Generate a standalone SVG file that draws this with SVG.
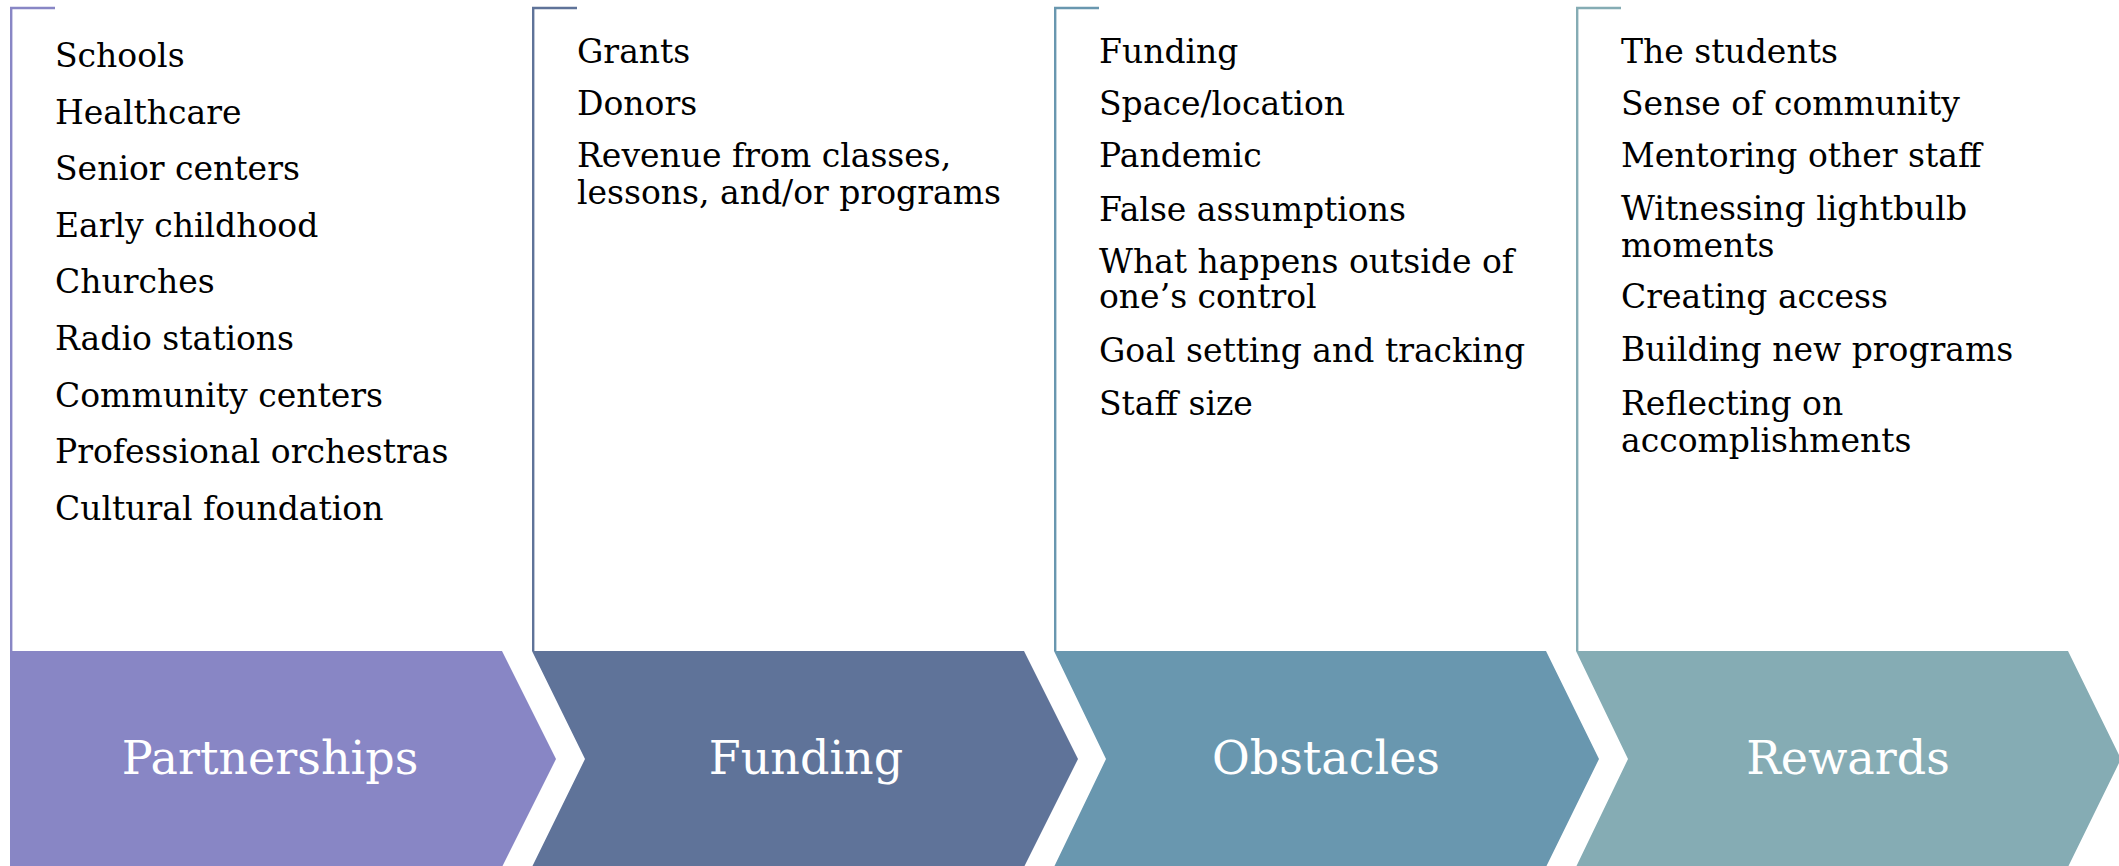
<svg xmlns="http://www.w3.org/2000/svg" width="2119" height="866" viewBox="0 0 2119 866">
<style>
.item{font-family:"DejaVu Serif","Liberation Serif",serif;font-size:33px;fill:#000}
.label{font-family:"DejaVu Serif","Liberation Serif",serif;font-size:46px;fill:#fff;text-anchor:middle}
.br{fill:none;stroke-width:2.4}
.c1{fill:#8886C5}.c2{fill:#5F7399}.c3{fill:#6997AF}.c4{fill:#85ACB4}
.s1{stroke:#8886C5}.s2{stroke:#5F7399}.s3{stroke:#6997AF}.s4{stroke:#85ACB4}
</style>
<rect width="2119" height="866" fill="#fff"/>
<g id="partnerships">
<polyline class="br s1" points="55,8 11.2,8 11.2,651"/>
<polygon class="c1" points="10,651 502,651 556,759 502,867 10,867"/>
<text class="label" x="270" y="774">Partnerships</text>
<text class="item" x="55" y="66.5">Schools</text>
<text class="item" x="55" y="123.5">Healthcare</text>
<text class="item" x="55" y="180">Senior centers</text>
<text class="item" x="55" y="236.5">Early childhood</text>
<text class="item" x="55" y="293">Churches</text>
<text class="item" x="55" y="350">Radio stations</text>
<text class="item" x="55" y="406.5">Community centers</text>
<text class="item" x="55" y="463">Professional orchestras</text>
<text class="item" x="55" y="519.5">Cultural foundation</text>
</g>
<g id="funding">
<polyline class="br s2" points="577,8 533.2,8 533.2,651"/>
<polygon class="c2" points="532,651 1024,651 1078,759 1024,867 532,867 585,759"/>
<text class="label" x="806" y="774">Funding</text>
<text class="item" x="577" y="63.3">Grants</text>
<text class="item" x="577" y="114.7">Donors</text>
<text class="item" x="577" y="167">Revenue from classes,</text>
<text class="item" x="577" y="203.5">lessons, and/or programs</text>
</g>
<g id="obstacles">
<polyline class="br s3" points="1099,8 1055.2,8 1055.2,651"/>
<polygon class="c3" points="1054,651 1546,651 1599,759 1546,867 1054,867 1106,759"/>
<text class="label" x="1326" y="774">Obstacles</text>
<text class="item" x="1099" y="63.3">Funding</text>
<text class="item" x="1099" y="115">Space/location</text>
<text class="item" x="1099" y="167">Pandemic</text>
<text class="item" x="1099" y="220.5">False assumptions</text>
<text class="item" x="1099" y="273">What happens outside of</text>
<text class="item" x="1099" y="307.5">one’s control</text>
<text class="item" x="1099" y="362">Goal setting and tracking</text>
<text class="item" x="1099" y="414.5">Staff size</text>
</g>
<g id="rewards">
<polyline class="br s4" points="1621,8 1577.2,8 1577.2,651"/>
<polygon class="c4" points="1576,651 2068,651 2121,759 2068,867 1576,867 1628,759"/>
<text class="label" x="1848" y="774">Rewards</text>
<text class="item" x="1621" y="63.3">The students</text>
<text class="item" x="1621" y="114.5">Sense of community</text>
<text class="item" x="1621" y="166.7">Mentoring other staff</text>
<text class="item" x="1621" y="220">Witnessing lightbulb</text>
<text class="item" x="1621" y="257">moments</text>
<text class="item" x="1621" y="308.3">Creating access</text>
<text class="item" x="1621" y="361">Building new programs</text>
<text class="item" x="1621" y="415">Reflecting on</text>
<text class="item" x="1621" y="451.7">accomplishments</text>
</g>
<g id="connectors"></g>
</svg>
